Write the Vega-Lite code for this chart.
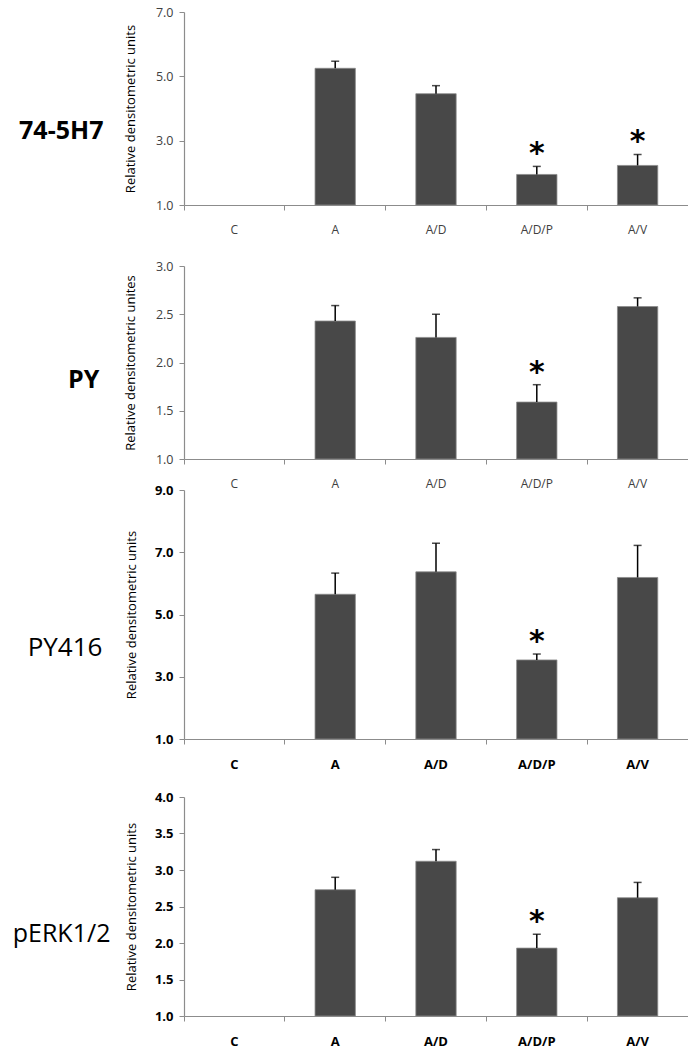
{
  "$schema": "https://vega.github.io/schema/vega-lite/v6.json",
  "padding": {"left": 12, "top": 6, "right": 0, "bottom": 0},
  "background": "white",
  "spacing": -5,
  "config": {
    "view": {"stroke": null},
    "font": "Open Sans",
    "axis": {"grid": false, "domainColor": "#8c8c8c", "tickColor": "#8c8c8c", "tickSize": 5, "domainWidth": 1.2, "tickWidth": 1, "labelOverlap": false},
    "axisY": {"labelOverlap": false},
    "axisQuantitative": {"labelOverlap": false}
  },
  "data": {
    "values": [
      {"panel": "p1", "cat": "A", "mean": 5.25, "err": 5.47, "sig": ""},
      {"panel": "p1", "cat": "A/D", "mean": 4.46, "err": 4.71, "sig": ""},
      {"panel": "p1", "cat": "A/D/P", "mean": 1.95, "err": 2.2, "sig": "*"},
      {"panel": "p1", "cat": "A/V", "mean": 2.23, "err": 2.57, "sig": "*"},
      {"panel": "p2", "cat": "A", "mean": 2.43, "err": 2.59, "sig": ""},
      {"panel": "p2", "cat": "A/D", "mean": 2.26, "err": 2.5, "sig": ""},
      {"panel": "p2", "cat": "A/D/P", "mean": 1.59, "err": 1.77, "sig": "*"},
      {"panel": "p2", "cat": "A/V", "mean": 2.58, "err": 2.67, "sig": ""},
      {"panel": "p3", "cat": "A", "mean": 5.65, "err": 6.33, "sig": ""},
      {"panel": "p3", "cat": "A/D", "mean": 6.37, "err": 7.29, "sig": ""},
      {"panel": "p3", "cat": "A/D/P", "mean": 3.54, "err": 3.73, "sig": "*"},
      {"panel": "p3", "cat": "A/V", "mean": 6.19, "err": 7.22, "sig": ""},
      {"panel": "p4", "cat": "A", "mean": 2.73, "err": 2.9, "sig": ""},
      {"panel": "p4", "cat": "A/D", "mean": 3.12, "err": 3.28, "sig": ""},
      {"panel": "p4", "cat": "A/D/P", "mean": 1.93, "err": 2.12, "sig": "*"},
      {"panel": "p4", "cat": "A/V", "mean": 2.62, "err": 2.83, "sig": ""}
    ]
  },
  "vconcat": [
    {
      "width": 504, "height": 193,
      "title": {"text": "74-5H7", "orient": "left", "angle": 0, "align": "left", "baseline": "middle", "anchor": "middle", "fontSize": 25, "fontWeight": "bold", "font": "Open Sans", "color": "black", "offset": 21, "dy": 22},
      "transform": [{"filter": "datum.panel === 'p1'"}],
      "encoding": {
        "x": {"field": "cat", "type": "nominal", "sort": null,
          "scale": {"domain": ["C", "A", "A/D", "A/D/P", "A/V"], "paddingInner": 0, "paddingOuter": 0},
          "axis": {"title": ".", "titleColor": "white", "titleFontSize": 10, "titlePadding": 20, "labelAngle": 0, "labelFontSize": 12, "labelColor": "#404040", "labelPadding": 14, "bandPosition": 1, "tickExtra": true}}
      },
      "layer": [
        {"mark": {"type": "bar", "width": {"band": 0.4}, "color": "#484848", "stroke": "#8a8a8a", "strokeWidth": 0.8},
         "encoding": {"y": {"field": "mean", "type": "quantitative", "title": "Relative densitometric units",
            "scale": {"domain": [1, 7], "nice": false, "zero": false},
            "axis": {"values": [1, 3, 5, 7], "format": ".1f", "labelOverlap": false, "labelFontSize": 12.5, "labelColor": "#404040", "labelPadding": 6, "titleFontSize": 13, "titleFontWeight": "normal", "titleColor": "black", "titlePadding": 18}},
           "y2": {"datum": 1}}},
        {"mark": {"type": "rule", "color": "black", "strokeWidth": 1.5},
         "encoding": {"y": {"field": "mean", "type": "quantitative", "title": "Relative densitometric units"}, "y2": {"field": "err"}}},
        {"mark": {"type": "tick", "color": "black", "thickness": 1.5, "size": 8},
         "encoding": {"y": {"field": "err", "type": "quantitative", "title": "Relative densitometric units"}}},
        {"transform": [{"filter": "datum.sig === '*'"}],
         "mark": {"type": "text", "font": "DejaVu Sans", "fontWeight": "bold", "fontSize": 30, "baseline": "alphabetic", "dy": -3, "color": "black"},
         "encoding": {"y": {"field": "err", "type": "quantitative", "title": "Relative densitometric units"}, "text": {"field": "sig"}}}
      ]
    },
    {
      "width": 504, "height": 193,
      "title": {"text": "PY", "orient": "left", "angle": 0, "align": "left", "baseline": "middle", "anchor": "middle", "fontSize": 25, "fontWeight": "bold", "font": "Open Sans", "color": "black", "offset": 25, "dy": 17},
      "transform": [{"filter": "datum.panel === 'p2'"}],
      "encoding": {
        "x": {"field": "cat", "type": "nominal", "sort": null,
          "scale": {"domain": ["C", "A", "A/D", "A/D/P", "A/V"], "paddingInner": 0, "paddingOuter": 0},
          "axis": {"title": null, "labelAngle": 0, "labelFontSize": 12, "labelColor": "#404040", "labelPadding": 14, "bandPosition": 1, "tickExtra": true}}
      },
      "layer": [
        {"mark": {"type": "bar", "width": {"band": 0.4}, "color": "#484848", "stroke": "#8a8a8a", "strokeWidth": 0.8},
         "encoding": {"y": {"field": "mean", "type": "quantitative", "title": "Relative densitometric unites",
            "scale": {"domain": [1, 3], "nice": false, "zero": false},
            "axis": {"values": [1, 1.5, 2, 2.5, 3], "format": ".1f", "labelOverlap": false, "labelFontSize": 12.5, "labelColor": "#404040", "labelPadding": 6, "titleFontSize": 13, "titleFontWeight": "normal", "titleColor": "black", "titlePadding": 18}},
           "y2": {"datum": 1}}},
        {"mark": {"type": "rule", "color": "black", "strokeWidth": 1.5},
         "encoding": {"y": {"field": "mean", "type": "quantitative", "title": "Relative densitometric unites"}, "y2": {"field": "err"}}},
        {"mark": {"type": "tick", "color": "black", "thickness": 1.5, "size": 8},
         "encoding": {"y": {"field": "err", "type": "quantitative", "title": "Relative densitometric unites"}}},
        {"transform": [{"filter": "datum.sig === '*'"}],
         "mark": {"type": "text", "font": "DejaVu Sans", "fontWeight": "bold", "fontSize": 30, "baseline": "alphabetic", "dy": -3, "color": "black"},
         "encoding": {"y": {"field": "err", "type": "quantitative", "title": "Relative densitometric unites"}, "text": {"field": "sig"}}}
      ]
    },
    {
      "width": 504, "height": 249,
      "title": {"text": "PY416", "orient": "left", "angle": 0, "align": "left", "baseline": "middle", "anchor": "middle", "fontSize": 26, "fontWeight": "normal", "font": "Open Sans", "color": "black", "offset": 23, "dy": 33},
      "transform": [{"filter": "datum.panel === 'p3'"}],
      "encoding": {
        "x": {"field": "cat", "type": "nominal", "sort": null,
          "scale": {"domain": ["C", "A", "A/D", "A/D/P", "A/V"], "paddingInner": 0, "paddingOuter": 0},
          "axis": {"title": ".", "titleColor": "white", "titleFontSize": 10, "titlePadding": 15, "labelAngle": 0, "labelFontSize": 13, "labelFontWeight": "bold", "labelColor": "black", "labelPadding": 14, "bandPosition": 1, "tickExtra": true}}
      },
      "layer": [
        {"mark": {"type": "bar", "width": {"band": 0.4}, "color": "#484848", "stroke": "#8a8a8a", "strokeWidth": 0.8},
         "encoding": {"y": {"field": "mean", "type": "quantitative", "title": "Relative densitometric units",
            "scale": {"domain": [1, 9], "nice": false, "zero": false},
            "axis": {"values": [1, 3, 5, 7, 9], "format": ".1f", "labelOverlap": false, "labelFontSize": 13, "labelFontWeight": "bold", "labelColor": "black", "labelPadding": 6, "titleFontSize": 13, "titleFontWeight": "normal", "titleColor": "black", "titlePadding": 16}},
           "y2": {"datum": 1}}},
        {"mark": {"type": "rule", "color": "black", "strokeWidth": 1.5},
         "encoding": {"y": {"field": "mean", "type": "quantitative", "title": "Relative densitometric units"}, "y2": {"field": "err"}}},
        {"mark": {"type": "tick", "color": "black", "thickness": 1.5, "size": 8},
         "encoding": {"y": {"field": "err", "type": "quantitative", "title": "Relative densitometric units"}}},
        {"transform": [{"filter": "datum.sig === '*'"}],
         "mark": {"type": "text", "font": "DejaVu Sans", "fontWeight": "bold", "fontSize": 30, "baseline": "alphabetic", "dy": -3, "color": "black"},
         "encoding": {"y": {"field": "err", "type": "quantitative", "title": "Relative densitometric units"}, "text": {"field": "sig"}}}
      ]
    },
    {
      "width": 504, "height": 219,
      "title": {"text": "pERK1/2", "orient": "left", "angle": 0, "align": "left", "baseline": "middle", "anchor": "middle", "fontSize": 25, "fontWeight": "normal", "font": "Open Sans", "color": "black", "offset": 15, "dy": 27},
      "transform": [{"filter": "datum.panel === 'p4'"}],
      "encoding": {
        "x": {"field": "cat", "type": "nominal", "sort": null,
          "scale": {"domain": ["C", "A", "A/D", "A/D/P", "A/V"], "paddingInner": 0, "paddingOuter": 0},
          "axis": {"title": null, "labelAngle": 0, "labelFontSize": 13, "labelFontWeight": "bold", "labelColor": "black", "labelPadding": 14, "bandPosition": 1, "tickExtra": true}}
      },
      "layer": [
        {"mark": {"type": "bar", "width": {"band": 0.4}, "color": "#484848", "stroke": "#8a8a8a", "strokeWidth": 0.8},
         "encoding": {"y": {"field": "mean", "type": "quantitative", "title": "Relative densitometric units",
            "scale": {"domain": [1, 4], "nice": false, "zero": false},
            "axis": {"values": [1, 1.5, 2, 2.5, 3, 3.5, 4], "tickCount": 7, "format": ".1f", "labelOverlap": false, "labelFontSize": 13, "labelFontWeight": "bold", "labelColor": "black", "labelPadding": 6, "titleFontSize": 13, "titleFontWeight": "normal", "titleColor": "black", "titlePadding": 16}},
           "y2": {"datum": 1}}},
        {"mark": {"type": "rule", "color": "black", "strokeWidth": 1.5},
         "encoding": {"y": {"field": "mean", "type": "quantitative", "title": "Relative densitometric units", "axis": {"values": [1, 1.5, 2, 2.5, 3, 3.5, 4], "labelOverlap": false}}, "y2": {"field": "err"}}},
        {"mark": {"type": "tick", "color": "black", "thickness": 1.5, "size": 8},
         "encoding": {"y": {"field": "err", "type": "quantitative", "title": "Relative densitometric units", "axis": {"values": [1, 1.5, 2, 2.5, 3, 3.5, 4], "labelOverlap": false}}}},
        {"transform": [{"filter": "datum.sig === '*'"}],
         "mark": {"type": "text", "font": "DejaVu Sans", "fontWeight": "bold", "fontSize": 30, "baseline": "alphabetic", "dy": -3, "color": "black"},
         "encoding": {"y": {"field": "err", "type": "quantitative", "title": "Relative densitometric units", "axis": {"values": [1, 1.5, 2, 2.5, 3, 3.5, 4], "labelOverlap": false}}, "text": {"field": "sig"}}}
      ]
    }
  ]
}
